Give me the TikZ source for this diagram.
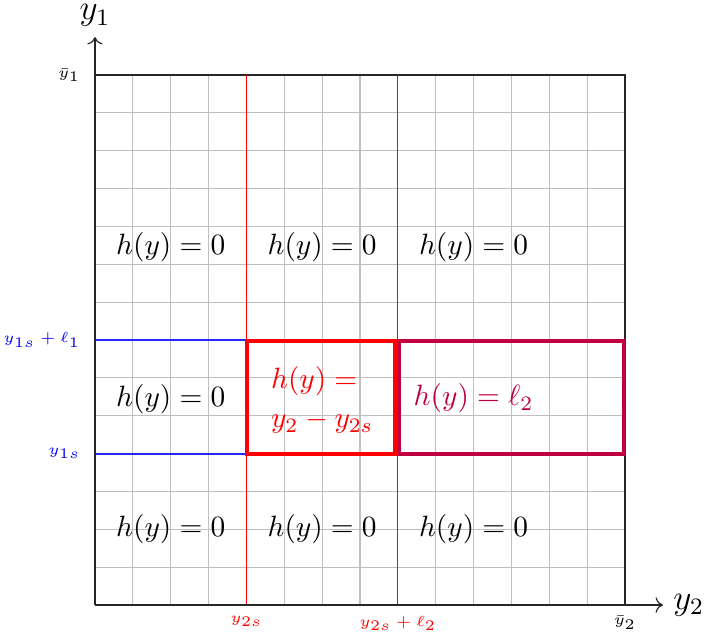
\documentclass[tikz,border=0pt]{standalone}
\usetikzlibrary{arrows.meta}
\begin{document}
\begin{tikzpicture}[x=0.453cm,y=0.453cm,
  gridlines/.style={lightgray, line width=0.4pt},
  frameline/.style={black!85, line width=0.4pt},
  axisarrow/.style={black!85, line width=0.4pt, ->},
  redguide/.style={red, line width=0.4pt},
  blueguide/.style={blue!85, line width=0.5pt},
  mainlabel/.style={font=\normalsize, inner sep=0pt},
  ticklabel/.style={font=\tiny, inner sep=0pt},
  axislabel/.style={font=\large},
  boxline/.style={line width=1.2pt},
]
\useasboundingbox (-2.509,-0.898) rectangle (16.112,15.98);
\coordinate (O) at (0,0);
\coordinate (xend) at (15,0);
\coordinate (yend) at (0,15);
\coordinate (tl) at (0,14);
\coordinate (tr) at (14,14);
\coordinate (br) at (14,0);
\coordinate (ua) at (0,7);
\coordinate (ub) at (4,7);
\coordinate (la) at (0,3.99);
\coordinate (lb) at (4,3.99);
\draw[gridlines, step={(1,1)}] (0,0) grid (14,14);
\draw[frameline] (tl) -- (tr) -- (br);
\draw[redguide] (4,0) -- (4,14);
\draw[redguide] (8,0) -- (8,14);
\draw[blueguide] (ua) -- (ub);
\draw[blueguide] (la) -- (lb);
\draw[axisarrow] (O) -- (xend);
\draw[axisarrow] (O) -- (yend);
\node[axislabel, above] (ylab) at (yend) {$y_1$};
\node[axislabel, right] (xlab) at (xend) {$y_2$};
% boxes
\draw[boxline, red] (4.02,3.99) rectangle (7.94,6.97);
\draw[red, line width=1.5pt] (7.94,3.99) -- (7.94,6.97);
\draw[boxline, purple] (8.04,3.99) rectangle (13.97,6.97);
% tick labels
\node[ticklabel, anchor=east] (ybar1) at (-0.37,14) {$\bar{y}_1$};
\node[ticklabel, blue, anchor=east] (y1top) at (-0.37,7) {$y_{1s}+\ell_1$};
\node[ticklabel, blue, anchor=east] (y1bot) at (-0.37,4) {$y_{1s}$};
\node[ticklabel, red, anchor=north] (x2s) at (4,-0.28) {$y_{2s}$};
\node[ticklabel, red, anchor=north] (x2sl) at (8,-0.28) {$y_{2s}+\ell_2$};
\node[ticklabel, anchor=north] (ybar2) at (14,-0.28) {$\bar{y}_2$};
% region labels
\node[mainlabel] (h11) at (2,9.45) {$h(y)=0$};
\node[mainlabel] (h12) at (6,9.45) {$h(y)=0$};
\node[mainlabel] (h13) at (10,9.45) {$h(y)=0$};
\node[mainlabel] (h21) at (2,5.45) {$h(y)=0$};
\node[mainlabel, red, align=left] (hred) at (6,5.42) {$h(y)=$\\[1.5pt]$y_2-y_{2s}$};
\node[mainlabel, purple] (hpur) at (10,5.46) {$h(y)=\ell_2$};
\node[mainlabel] (h31) at (2,2) {$h(y)=0$};
\node[mainlabel] (h32) at (6,2) {$h(y)=0$};
\node[mainlabel] (h33) at (10,2) {$h(y)=0$};
\end{tikzpicture}
\end{document}
